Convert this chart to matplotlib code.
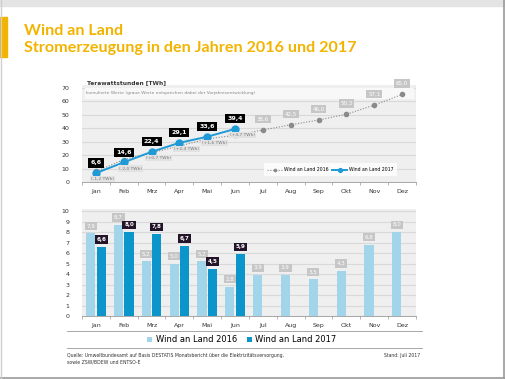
import matplotlib.pyplot as plt
from matplotlib.patches import Rectangle
from matplotlib.lines import Line2D

monate = ["Jan", "Feb", "Mrz", "Apr", "Mai", "Jun", "Jul", "Aug", "Sep", "Okt", "Nov", "Dez"]
kumuliert_2016 = [7.8, 16.6, 21.7, 26.7, 32.0, 34.7, 38.6, 42.5, 46.0, 50.3, 57.1, 65.0]
kumuliert_2017 = [6.6, 14.6, 22.4, 29.1, 33.6, 39.4]
differenz = ["(-1,2 TWh)", "(-2,0 TWh)", "(+0,7 TWh)", "(+2,4 TWh)", "(+1,6 TWh)", "(+4,7 TWh)"]
monat_2016 = [7.9, 8.7, 5.2, 5.0, 5.2, 2.8, 3.9, 3.9, 3.5, 4.3, 6.8, 8.0]
monat_2017 = [6.6, 8.0, 7.8, 6.7, 4.5, 5.9]

gelb = "#f2b400"
hellblau = "#a2d5e9"
dunkelblau = "#0b95cb"
linienblau = "#1f9ad6"
grau_box = "#c6c6c6"
bg = "#efefef"
gitter = "#d9d9d9"

def fmt(v):
    return f"{v:.1f}".replace(".", ",")

fig = plt.figure(figsize=(5.06, 3.79), dpi=100)
W, H = 506, 379

def fx(x):
    return x / W

def fy(y):
    return 1 - y / H

# Rahmen
fig.patches.append(Rectangle((0, fy(6)), 1, 6 / H, transform=fig.transFigure, color="#e4e4e4", zorder=0))
fig.patches.append(Rectangle((0, fy(57)), fx(7), 40 / H, transform=fig.transFigure, color=gelb, zorder=1))
fig.add_artist(Line2D([fx(504.5), fx(504.5)], [0, 1], color="#9a9a9a", lw=1.2))
fig.add_artist(Line2D([0, 1], [fy(377.5), fy(377.5)], color="#9a9a9a", lw=1.2))
fig.add_artist(Line2D([fx(1), fx(1)], [0, 1], color="#cfcfcf", lw=1))

fig.text(fx(24), fy(31), "Wind an Land", color=gelb, fontsize=11.6, fontweight="bold",
         family="Lato", va="center")
fig.text(fx(24), fy(48), "Stromerzeugung in den Jahren 2016 und 2017", color=gelb,
         fontsize=11.6, fontweight="bold", family="Lato", va="center")

x = list(range(12))

# oberes Diagramm
ax1 = fig.add_axes([fx(82), fy(182), fx(416) - fx(82), fy(85) - fy(182)])
ax1.set_facecolor(bg)
ax1.set_xlim(-0.5, 11.5)
ax1.set_ylim(0, 72)
ax1.set_yticks(range(0, 71, 10))
ax1.yaxis.grid(True, color=gitter, lw=0.8)
ax1.set_axisbelow(True)
for s in ax1.spines.values():
    s.set_visible(False)
ax1.spines["bottom"].set_visible(True)
ax1.spines["bottom"].set_color("#999999")
ax1.spines["bottom"].set_linewidth(0.6)
ax1.set_xticks(x)
ax1.set_xticklabels(monate)
ax1.set_xticks([i + 0.5 for i in range(-1, 12)], minor=True)
ax1.tick_params(axis="x", which="major", length=0, labelsize=4.5, pad=5, colors="#333333")
ax1.tick_params(axis="x", which="minor", length=2, width=0.5, color="#999999")
ax1.tick_params(axis="y", length=0, labelsize=4.5, pad=9, colors="#333333")
ax1.add_patch(Rectangle((-0.4, 62.5), 11.8, 7.5, color="#f8f8f8", zorder=1))
ax1.text(-0.35, 66.2, "kumulierte Werte (graue Werte entsprechen dabei der Vorjahresentwicklung)",
         fontsize=3.2, color="#888888", va="center", zorder=2)
fig.text(fx(87), fy(83), "Terawattstunden [TWh]", fontsize=4.2, fontweight="bold", color="#333333",
         va="center")

ax1.plot(x, kumuliert_2016, ls=(0, (1, 1.5)), color="#8a8a8a", lw=0.8, marker="o", ms=3,
         mfc="#8a8a8a", mec="#8a8a8a", zorder=3, label="Wind an Land 2016")
ax1.plot(x[:6], kumuliert_2017, color=linienblau, lw=1.4, marker="o", ms=5, zorder=4,
         label="Wind an Land 2017")
for i in range(6, 12):
    ax1.annotate(fmt(kumuliert_2016[i]), (i, kumuliert_2016[i]), xytext=(0, 6), textcoords="offset points",
                 ha="center", va="bottom", fontsize=4, color="white",
                 bbox=dict(boxstyle="square,pad=0.3", fc=grau_box, ec="none"), zorder=5)
for i in range(6):
    ax1.annotate(fmt(kumuliert_2017[i]), (i, kumuliert_2017[i]), xytext=(0, 5.5), textcoords="offset points",
                 ha="center", va="bottom", fontsize=4.5, color="white", fontweight="bold",
                 bbox=dict(boxstyle="square,pad=0.35", fc="black", ec="none"), zorder=5)
    ax1.annotate(differenz[i], (i, kumuliert_2017[i]), xytext=(5, -4.5), textcoords="offset points",
                 ha="center", va="center", fontsize=3.2, color="#777777",
                 bbox=dict(boxstyle="square,pad=0.25", fc="#e2e2e2", ec="none"), zorder=5)
leg1 = ax1.legend(loc="lower right", bbox_to_anchor=(0.95, 0.04), ncol=2, fontsize=3.3, frameon=True,
                  fancybox=False, edgecolor="none", handlelength=3.2, columnspacing=0.8,
                  borderpad=0.8, handletextpad=0.4, markerscale=0.55)
leg1.get_frame().set_facecolor("white")

# unteres Diagramm
ax2 = fig.add_axes([fx(82), fy(316), fx(416) - fx(82), fy(209) - fy(316)])
ax2.set_facecolor(bg)
ax2.set_xlim(-0.5, 11.5)
ax2.set_ylim(0, 10.2)
ax2.set_yticks(range(0, 11))
ax2.yaxis.grid(True, color=gitter, lw=0.8)
ax2.set_axisbelow(True)
for s in ax2.spines.values():
    s.set_visible(False)
ax2.spines["bottom"].set_visible(True)
ax2.spines["bottom"].set_color("#999999")
ax2.spines["bottom"].set_linewidth(0.6)
ax2.set_xticks(x)
ax2.set_xticklabels(monate)
ax2.set_xticks([i + 0.5 for i in range(-1, 12)], minor=True)
ax2.tick_params(axis="x", which="major", length=0, labelsize=4.5, pad=5, colors="#333333")
ax2.tick_params(axis="x", which="minor", length=2, width=0.5, color="#999999")
ax2.tick_params(axis="y", length=0, labelsize=4.5, pad=9, colors="#333333")

b = 0.33
ax2.bar([i - 0.19 for i in x], monat_2016, width=b, color=hellblau, label="Wind an Land 2016", zorder=3)
ax2.bar([i + 0.19 for i in range(6)], monat_2017, width=b, color=dunkelblau, label="Wind an Land 2017",
        zorder=3)
for i in x:
    ax2.annotate(fmt(monat_2016[i]), (i - 0.19, monat_2016[i]), xytext=(0, 3.5), textcoords="offset points",
                 ha="center", va="bottom", fontsize=4, color="white",
                 bbox=dict(boxstyle="square,pad=0.3", fc=grau_box, ec="none"), zorder=5)
for i in range(6):
    ax2.annotate(fmt(monat_2017[i]), (i + 0.19, monat_2017[i]), xytext=(0, 3.5), textcoords="offset points",
                 ha="center", va="bottom", fontsize=4, color="white", fontweight="bold",
                 bbox=dict(boxstyle="square,pad=0.3", fc="#24142a", ec="none"), zorder=5)

fig.add_artist(Line2D([fx(67), fx(422)], [fy(331), fy(331)], color="#999999", lw=0.6))
fig.add_artist(Line2D([fx(67), fx(422)], [fy(348), fy(348)], color="#999999", lw=0.6))
h, l = ax2.get_legend_handles_labels()
fig.legend(h, l, loc="center", bbox_to_anchor=(fx(242), fy(340)), ncol=2, fontsize=6, frameon=False,
           handlelength=0.6, handleheight=0.6, handletextpad=0.4, columnspacing=1.2)

fig.text(fx(67), fy(355), "Quelle: Umweltbundesamt auf Basis DESTATIS Monatsbericht über die Elektrizitätsversorgung,",
         fontsize=3.3, color="#333333", va="center")
fig.text(fx(67), fy(362), "sowie ZSW/BDEW und ENTSO-E", fontsize=3.3, color="#333333", va="center")
fig.text(fx(420), fy(355), "Stand: Juli 2017", fontsize=3.3, color="#333333", va="center", ha="right")

fig.savefig("out.png", dpi=100)
